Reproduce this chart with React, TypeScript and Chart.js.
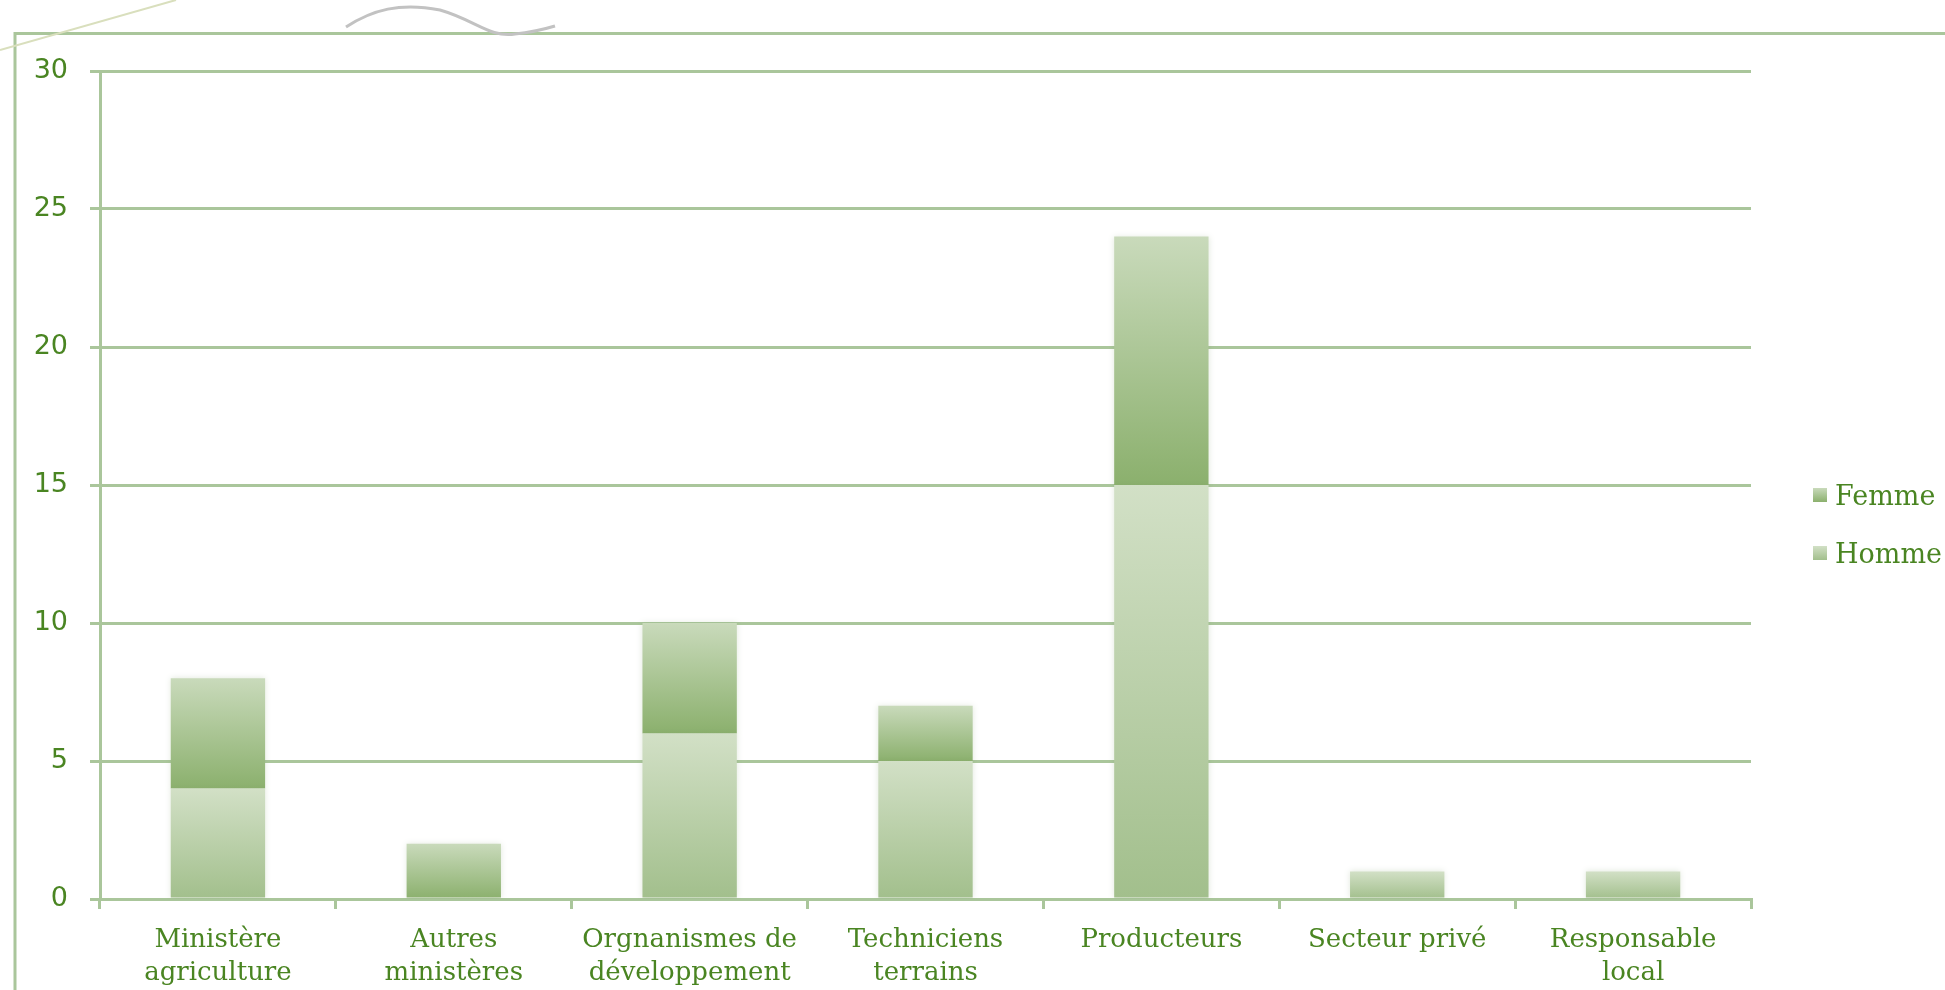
import React, { useEffect, useRef } from "react";
import { Chart, registerables } from "chart.js";

Chart.register(...registerables);

const categories: string[][] = [
  ["Ministère", "agriculture"],
  ["Autres", "ministères"],
  ["Orgnanismes de", "développement"],
  ["Techniciens", "terrains"],
  ["Producteurs"],
  ["Secteur privé"],
  ["Responsable", "local"],
];
const hommeValues = [4, 0, 6, 5, 15, 1, 1];
const femmeValues = [4, 2, 4, 2, 9, 0, 0];
const seriesNames = ["Homme", "Femme"];
const yMin = 0;
const yMax = 30;
const yStep = 5;

const TEXT = "#4a8522";
const LINE = "#aac69b";
const HOMME_TOP = "#d2e0c6";
const HOMME_BOT = "#a2bf8c";
const FEMME_TOP = "#c9dabb";
const FEMME_BOT = "#8bb06d";

function gradientFor(c: any, baseArr: number[] | null, valArr: number[], top: string, bot: string) {
  const chart = c.chart;
  if (!chart.chartArea || c.type !== "data") return bot;
  const i = c.dataIndex;
  const base = baseArr ? baseArr[i] : 0;
  const y = chart.scales.y;
  const yTop = y.getPixelForValue(base + valArr[i]);
  const yBot = y.getPixelForValue(base);
  if (!isFinite(yTop) || !isFinite(yBot) || yTop === yBot) return bot;
  const g = chart.ctx.createLinearGradient(0, yTop, 0, yBot);
  g.addColorStop(0, top);
  g.addColorStop(1, bot);
  return g;
}

const decor = {
  id: "decor",
  beforeDraw(chart: any) {
    const ctx = chart.ctx;
    ctx.save();
    ctx.fillStyle = "#ffffff";
    ctx.fillRect(0, 0, chart.width, chart.height);
    // slide frame
    ctx.strokeStyle = LINE;
    ctx.lineWidth = 3;
    ctx.beginPath();
    ctx.moveTo(15, 990);
    ctx.lineTo(15, 33.5);
    ctx.lineTo(1945, 33.5);
    ctx.stroke();
    // diagonal decoration
    ctx.strokeStyle = "#d9dfbd";
    ctx.lineWidth = 2;
    ctx.beginPath();
    ctx.moveTo(0, 50);
    ctx.lineTo(176, 0);
    ctx.stroke();
    // wave decoration
    ctx.strokeStyle = "#c2c2c2";
    ctx.lineWidth = 3;
    ctx.beginPath();
    ctx.moveTo(346, 27);
    ctx.bezierCurveTo(372, 10, 400, 2, 440, 10);
    ctx.bezierCurveTo(475, 20, 490, 38, 515, 34);
    ctx.bezierCurveTo(535, 32, 545, 29, 555, 26);
    ctx.stroke();
    ctx.restore();
  },
  beforeDatasetsDraw(chart: any) {
    const ctx = chart.ctx;
    ctx.save();
    ctx.shadowColor = "rgba(120,150,100,0.22)";
    ctx.shadowBlur = 6;
  },
  afterDatasetsDraw(chart: any) {
    chart.ctx.restore();
  },
};

export default function App() {
  const ref = useRef<HTMLCanvasElement | null>(null);

  useEffect(() => {
    document.body.style.margin = "0";
    if (!ref.current) return;
    const chart = new Chart(ref.current, {
      type: "bar",
      data: {
        labels: categories,
        datasets: [
          {
            label: seriesNames[0],
            data: hommeValues,
            backgroundColor: (c: any) => gradientFor(c, null, hommeValues, HOMME_TOP, HOMME_BOT),
            categoryPercentage: 1,
            barPercentage: 0.4,
          },
          {
            label: seriesNames[1],
            data: femmeValues,
            backgroundColor: (c: any) => gradientFor(c, hommeValues, femmeValues, FEMME_TOP, FEMME_BOT),
            categoryPercentage: 1,
            barPercentage: 0.4,
          },
        ],
      },
      options: {
        responsive: false,
        animation: false,
        layout: { padding: { top: 71, right: 194, left: 0, bottom: 0 } },
        plugins: {
          legend: { display: false },
          tooltip: { enabled: false },
        },
        scales: {
          x: {
            stacked: true,
            afterFit: (s: any) => {
              s.height = 91;
            },
            grid: {
              drawOnChartArea: false,
              drawTicks: true,
              tickLength: 10,
              color: LINE,
              lineWidth: 3,
              offset: true,
            },
            border: { display: true, color: LINE, width: 3 },
            ticks: {
              color: TEXT,
              font: { family: "'DejaVu Serif', serif", size: 26, lineHeight: 1.3 },
              padding: 14,
              maxRotation: 0,
              autoSkip: false,
            },
          },
          y: {
            stacked: true,
            min: yMin,
            max: yMax,
            afterFit: (s: any) => {
              s.width = 100;
            },
            grid: {
              color: LINE,
              lineWidth: 3,
              drawTicks: true,
              tickLength: 10,
            },
            border: { display: true, color: LINE, width: 3 },
            ticks: {
              stepSize: yStep,
              color: TEXT,
              font: { family: "'DejaVu Sans', sans-serif", size: 27 },
              padding: 22,
            },
          },
        },
      },
      plugins: [decor],
    });
    return () => chart.destroy();
  }, []);

  const legendItems = [
    { name: seriesNames[1], top: FEMME_TOP, bot: FEMME_BOT, y: 495 },
    { name: seriesNames[0], top: HOMME_TOP, bot: HOMME_BOT, y: 553 },
  ];

  return (
    <div style={{ position: "absolute", left: 0, top: 0, width: 1945, height: 990, overflow: "hidden", background: "#fff" }}>
      <canvas ref={ref} width={1945} height={990} style={{ display: "block" }} />
      {legendItems.map((it) => (
        <div
          key={it.name}
          style={{
            position: "absolute",
            left: 1813,
            top: it.y - 20,
            height: 40,
            display: "flex",
            alignItems: "center",
            whiteSpace: "nowrap",
            fontFamily: "'DejaVu Serif', serif",
            fontSize: 27,
            color: TEXT,
          }}
        >
          <span
            style={{
              display: "inline-block",
              width: 14,
              height: 14,
              marginRight: 8,
              background: `linear-gradient(${it.top}, ${it.bot})`,
            }}
          />
          {it.name}
        </div>
      ))}
    </div>
  );
}
